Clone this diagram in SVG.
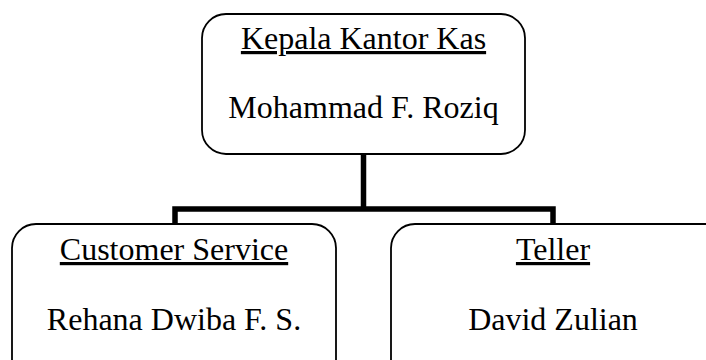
<svg xmlns="http://www.w3.org/2000/svg" width="706" height="360" viewBox="0 0 706 360">
<style>
.box{fill:#fff;stroke:#000;stroke-width:1.8}
.t{font-family:"Liberation Serif","Times New Roman",serif;font-size:32px;fill:#000;text-anchor:middle}
.u{text-decoration:underline}
.c{fill:none;stroke:#000;stroke-width:5.5;stroke-linejoin:miter;stroke-linecap:butt}
</style>
<rect width="706" height="360" fill="#fff"/>
<g id="connectors">
<path class="c" d="M363.5 154 V209"/>
<path class="c" d="M175 224 V209 H553 V224"/>
</g>
<g id="kepala">
<rect class="box" x="202" y="14" width="323" height="140" rx="24" ry="24"/>
<text class="t u" x="363.5" y="49">Kepala Kantor Kas</text>
<text class="t" x="363.5" y="118">Mohammad F. Roziq</text>
</g>
<g id="cs">
<rect class="box" x="12" y="224" width="324" height="160" rx="24" ry="24"/>
<text class="t u" x="174" y="260">Customer Service</text>
<text class="t" x="174" y="330">Rehana Dwiba F. S.</text>
</g>
<g id="teller">
<rect class="box" x="391" y="224" width="340" height="160" rx="24" ry="24"/>
<text class="t u" x="553" y="260">Teller</text>
<text class="t" x="553" y="330">David Zulian</text>
</g>
</svg>
